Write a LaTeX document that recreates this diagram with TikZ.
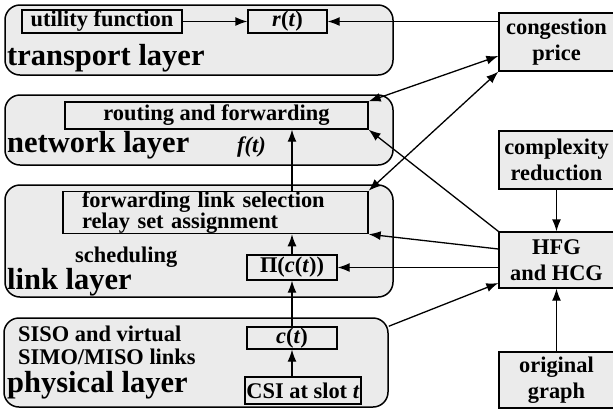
\documentclass[tikz,border=0pt]{standalone}
\usepackage{fontspec}
\setmainfont{Liberation Serif}
\usetikzlibrary{arrows.meta}
\definecolor{boxgray}{HTML}{EBEBEB}

\begin{document}
\begin{tikzpicture}[x=1pt, y=-1pt,
		every node/.style={font=\fontsize{22.4}{25}\selectfont\bfseries},
		layer/.style={draw, line width=1.5pt, rounded corners=15pt, fill=boxgray, inner sep=0pt},
		inbox/.style={draw, line width=1.3pt, fill=boxgray, inner sep=0pt},
		sidebox/.style={draw, line width=1.3pt, fill=boxgray, inner sep=0pt, align=center, minimum width=115pt,
			font=\fontsize{22.4}{26}\selectfont\bfseries},
		title/.style={anchor=base west, inner sep=0pt, font=\fontsize{30.5}{32}\selectfont\bfseries},
		note/.style={anchor=base west, inner sep=0pt},
		link/.style={line width=1.3pt, -{Latex[length=12pt,width=9pt]}},
		twoway/.style={line width=1.3pt, {Latex[length=12pt,width=9pt]}-{Latex[length=12pt,width=9pt]}}
		]
		
		\useasboundingbox (0,0) rectangle (613,416);
		\clip (0,0) rectangle (613,416);
		
		% layers
		\node[layer, minimum width=388pt, minimum height=70pt] (transport) at (199,40) {};
		\node[layer, minimum width=388pt, minimum height=70pt] (network) at (199,130) {};
		\node[layer, minimum width=388pt, minimum height=112pt] (linklayer) at (199,241) {};
		\node[layer, minimum width=384pt, minimum height=89pt] (physical) at (196,362.5) {};
		
		\node[title] (transporttitle) at (7,65) {transport layer};
		\node[title] (networktitle) at (7,152) {network layer};
		\node[title] (linktitle) at (7,289) {link layer};
		\node[title] (physicaltitle) at (7,392) {physical layer};
		
		% blocks inside the layers
		\node[inbox, minimum width=160pt, minimum height=23pt] (utility) at (102,21.5) {utility function};
		\node[inbox, minimum width=79pt, minimum height=23pt] (rate) at (287.5,21.5) {\textit{r}(\textit{t})};
		\node[inbox, minimum width=303pt, minimum height=27pt] (routing) at (216.5,115.5) {routing and forwarding};
		\node[inbox, minimum width=305pt, minimum height=41pt, text width=267pt, align=left,
			font=\fontsize{22.4}{17}\selectfont\bfseries] (forward) at (215.5,212.5)
			{forwarding link selection\\relay set assignment};
		\node[inbox, minimum width=90pt, minimum height=25pt] (sched) at (292,267.5) {Π(\textit{c}(\textit{t}))};
		\node[inbox, minimum width=90pt, minimum height=22pt] (capacity) at (292,338) {\textit{c}(\textit{t})};
		\node[inbox, minimum width=116pt, minimum height=27pt] (csi) at (303,390.5) {CSI at slot \textit{t}};
		
		\node[note] (flow) at (237,152) {\textit{f(t)}};
		\node[note] (schedlabel) at (75,262) {scheduling};
		\node[note] (sisolabel) at (18,341) {SISO and virtual};
		\node[note] (simolabel) at (18,364) {SIMO/MISO links};
		
		% blocks on the right
		\node[sidebox, minimum height=58pt] (price) at (556.5,42) {congestion\\price};
		\node[sidebox, minimum height=58pt] (complexity) at (556.5,160) {complexity\\reduction};
		\node[sidebox, minimum height=56pt] (graphs) at (556.5,260) {HFG\\and HCG};
		\node[sidebox, minimum height=56pt] (original) at (556.5,380) {original\\graph};
		
		% connectors
		\draw[link] (utility) -- (rate);
		\draw[link] (price.west |- rate.east) -- (rate.east);
		\draw[twoway] (routing.north east) -- ([yshift=-14pt]price.west);
		\draw[twoway] (forward.north east) -- (price.south west);
		\draw[link] (forward.north -| sched) -- (routing.south -| sched);
		\draw[link] (sched) -- (forward.south -| sched);
		\draw[link] (capacity) -- (sched);
		\draw[link] (csi.north -| capacity) -- (capacity);
		\draw[link] (complexity) -- (graphs);
		\draw[link] (original) -- (graphs);
		\draw[link] (graphs.north west) -- (routing.south east);
		\draw[link] ([yshift=11pt]graphs.west) -- (forward.south east);
		\draw[link] (graphs.west |- sched.east) -- (sched.east);
		\draw[link] ([yshift=-9pt]physical.north east) -- ([yshift=-23pt]graphs.west);
		
	\end{tikzpicture}
\end{document}
